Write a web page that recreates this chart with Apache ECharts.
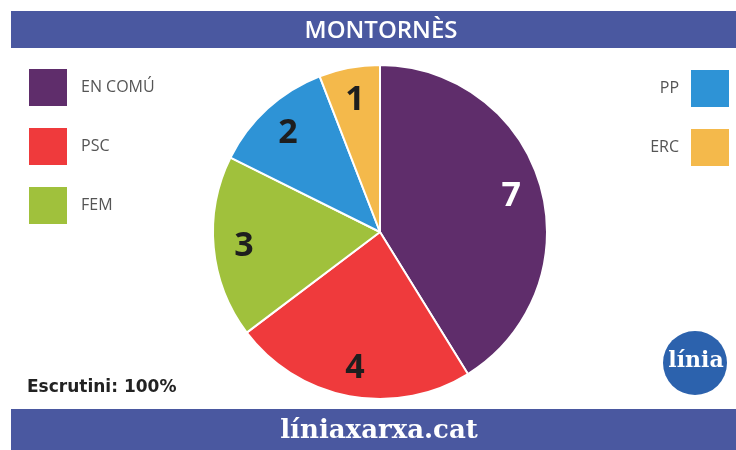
<!DOCTYPE html>
<html>
<head>
<meta charset="utf-8">
<script src="https://cdn.jsdelivr.net/npm/echarts@6/dist/echarts.min.js"></script>
<style>html,body{margin:0;padding:0;background:#fff;}#c{width:736px;height:450px;}</style>
</head>
<body>
<div id="c"></div>
<script>
const title = 'MONTORNÈS';
const parties = ['EN COMÚ', 'PSC', 'FEM', 'PP', 'ERC'];
const seats = [7, 4, 3, 2, 1];
const colors = ['#5f2d6b', '#ef3a3c', '#a0c13c', '#2e93d6', '#f4b94b'];
const labelColors = ['#ffffff', '#1e1e1e', '#1e1e1e', '#1e1e1e', '#1e1e1e'];
const leftLegend = ['EN COMÚ', 'PSC', 'FEM'];
const rightLegend = ['PP', 'ERC'];
const footer = 'líniaxarxa.cat';
const scrutiny = 'Escrutini: 100%';

const data = parties.map((p, i) => ({
  name: p, value: seats[i],
  itemStyle: { color: colors[i] },
  label: { color: labelColors[i] }
}));

const chart = echarts.init(document.getElementById('c'), null, { renderer: 'canvas' });
const blue = '#4a58a0';
chart.setOption({
  animation: false,
  backgroundColor: '#ffffff',
  legend: [
    {
      data: leftLegend, orient: 'vertical', left: 27, top: 67, padding: 0,
      icon: 'rect', itemWidth: 40, itemHeight: 39, itemGap: 18,
      textStyle: { color: '#555', fontSize: 16, fontFamily: 'Open Sans', padding: [0, 0, 0, 8] },
      selectedMode: false
    },
    {
      data: rightLegend, orient: 'vertical', right: 5, top: 68, align: 'right', padding: 0,
      icon: 'rect', itemWidth: 40, itemHeight: 39, itemGap: 18,
      textStyle: { color: '#555', fontSize: 16, fontFamily: 'Open Sans', padding: [0, 6, 0, 0] },
      selectedMode: false
    }
  ],
  graphic: [
    { type: 'rect', shape: { x: 11, y: 11, width: 725, height: 37 }, style: { fill: blue }, z: 0 },
    { type: 'text', x: 381, y: 31, style: { text: title, fill: '#fff', font: '600 24px "Open Sans"', textAlign: 'center', textVerticalAlign: 'middle' } },
    { type: 'rect', shape: { x: 11, y: 409, width: 725, height: 41 }, style: { fill: blue }, z: 0 },
    { type: 'text', x: 379, y: 431, style: { text: footer, fill: '#fff', font: 'bold 26px "DejaVu Serif"', textAlign: 'center', textVerticalAlign: 'middle' } },
    { type: 'text', x: 27, y: 388, style: { text: scrutiny, fill: '#222', font: 'bold 17px "DejaVu Sans"', textAlign: 'left', textVerticalAlign: 'middle' } },
    { type: 'circle', shape: { cx: 695, cy: 363, r: 32 }, style: { fill: '#2c62ad' } },
    { type: 'text', x: 696, y: 361, style: { text: 'línia', fill: '#fff', font: 'bold 22px "DejaVu Serif"', textAlign: 'center', textVerticalAlign: 'middle' } }
  ],
  series: [
    {
      type: 'pie', center: [380, 232], radius: 167, startAngle: 90, clockwise: true,
      data: data, label: { show: false }, labelLine: { show: false },
      itemStyle: { borderColor: '#fff', borderWidth: 2 }, silent: true
    },
    {
      type: 'pie', center: [380, 234], radius: [100, 167], startAngle: 90, clockwise: true,
      data: data.map(d => Object.assign({}, d, { itemStyle: { color: 'rgba(0,0,0,0)' } })),
      label: { show: true, position: 'inside', formatter: '{c}', fontSize: 34, fontWeight: 'bold', fontFamily: 'Open Sans' },
      labelLine: { show: false }, itemStyle: { borderWidth: 0 }, silent: true, legendHoverLink: false
    }
  ]
});
</script>
</body>
</html>
